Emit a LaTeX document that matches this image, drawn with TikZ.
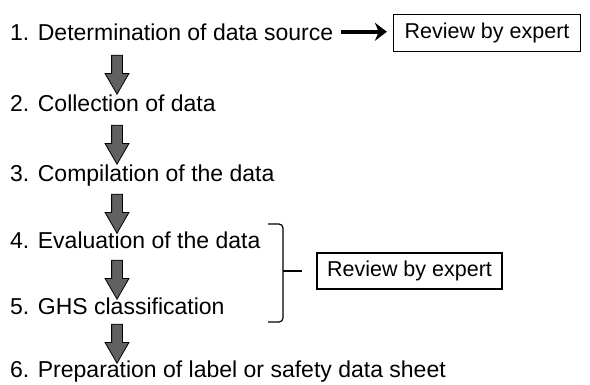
\documentclass[tikz,border=0pt]{standalone}
\usepackage{fontspec}
\setmainfont{Liberation Sans}
\usetikzlibrary{arrows.meta}
\usetikzlibrary{positioning}
\usetikzlibrary{shapes.arrows}
\usetikzlibrary{calc}

\begin{document}
\begin{tikzpicture}[
  x=1pt, y=-1pt,
  stage/.style={
    anchor=base west,
    inner sep=0pt,
    font=\fontsize{23}{27}\selectfont
  },
  expert/.style={
    draw,
    line width=1.2pt,
    minimum width=187pt,
    minimum height=37pt,
    font=\fontsize{21.5}{26}\selectfont
  },
  flow/.style={
    single arrow,
    draw,
    fill=black!62,
    line width=0.8pt,
    rotate=-90,
    inner sep=5pt,
    minimum height=39pt,
    minimum width=23pt,
    single arrow head extend=6.5pt,
    single arrow tip angle=60
  },
  arrow/.style={-{Stealth[length=12pt,width=18pt]}, line width=3.8pt}
]
\useasboundingbox (0,0) rectangle (590,384);

\node[stage] (source)   at (10,40)  {1. Determination of data source};
\node[stage] (collect)  at (10,111) {2. Collection of data};
\node[stage] (compile)  at (10,181) {3. Compilation of the data};
\node[stage] (evaluate) at (10,248) {4. Evaluation of the data};
\node[stage] (classify) at (10,314) {5. GHS classification};
\node[stage] (sheet)    at (10,377) {6. Preparation of label or safety data sheet};

\node[flow] (down1) at (117,70)  {};
\node[flow] (down2) at (117,140) {};
\node[flow] (down3) at (117,209) {};
\node[flow] (down4) at (117,275) {};
\node[flow] (down5) at (117,339) {};

% expert review of the source
\node[expert] (review) at (487,33) {Review by expert};
\draw[arrow, shorten <=8pt, shorten >=6pt] (source.east) -- (source.east -| review.west);

% expert review of steps 4 and 5
\node[expert, minimum width=185pt, minimum height=36pt] (reviewb) at (409.5,271) {Review by expert};
\coordinate (bracetip) at (302,271);
\draw[line width=1.2pt, rounded corners=4pt] (268,224) -- (283,224) -- (283,322) -- (268,322);
\draw[line width=1.2pt] (283,271) -- (bracetip);

\end{tikzpicture}
\end{document}
